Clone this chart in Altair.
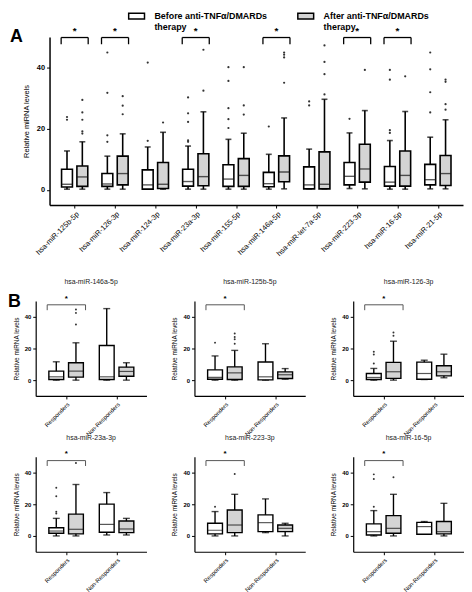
import json
import altair as alt
import pandas as pd

FONT = "Liberation Sans"
GREY = "#d4d4d4"

# ---------------- Panel A data ----------------
genes = ["hsa-miR-125b-5p", "hsa-miR-126-3p", "hsa-miR-124-3p", "hsa-miR-23a-3p",
         "hsa-miR-155-5p", "hsa-miR-146a-5p", "hsa-miR-let-7a-5p", "hsa-miR-223-3p",
         "hsa-miR-16-5p", "hsa-miR-21-5p"]
groups = ["Before anti-TNFα/DMARDs therapy", "After anti-TNFα/DMARDs therapy"]

before_low = [0.2, 0.2, 0.2, 0.2, 0.2, 0.2, 0.3, 0.4, 0.2, 0.3]
before_q1 = [0.9, 1.1, 0.2, 1.2, 1.1, 1.0, 0.3, 1.6, 1.2, 1.6]
before_med = [1.8, 1.9, 1.6, 2.7, 3.5, 2.0, 1.6, 4.4, 2.5, 3.3]
before_q3 = [6.7, 5.3, 6.5, 6.7, 8.2, 5.7, 7.5, 8.9, 7.6, 8.3]
before_high = [12.7, 11.0, 14.0, 14.3, 16.5, 11.6, 13.3, 18.6, 16.1, 17.2]

after_low = [0.2, 0.2, 0.2, 0.2, 0.2, 0.3, 0.3, 0.3, 0.2, 0.3]
after_q1 = [1.1, 1.6, 0.4, 1.3, 1.1, 2.6, 0.3, 2.5, 1.2, 1.4]
after_med = [4.2, 5.3, 1.8, 4.3, 4.7, 5.8, 1.8, 6.8, 4.7, 5.3]
after_q3 = [7.8, 11.0, 8.9, 11.8, 10.2, 11.1, 12.4, 14.9, 12.7, 11.2]
after_high = [15.7, 18.3, 18.8, 25.5, 18.5, 23.5, 29.6, 25.9, 25.6, 22.9]

before_outliers = [[22.9, 23.8], [15.7, 17.8, 31.7, 44.9], [16.0, 41.6],
                   [15.7, 16.2, 22.2, 25.0, 30.2], [20.2, 23.1, 26.7, 35.6, 40.1],
                   [20.7], [27.6, 28.9], [23.2], [18.6, 19.5, 36.0, 39.2],
                   [25.3, 31.9, 39.4, 44.9]]
after_outliers = [[18.4, 19.1, 22.9, 25.3, 29.4], [24.7, 27.5, 30.6], [22.0],
                  [32.4, 45.8], [24.6, 27.6, 40.1], [35.0, 43.3, 44.2, 44.9],
                  [31.2, 37.8, 41.8, 47.2], [39.2], [37.1], [26.2, 28.0, 35.3, 36.0]]
sig_genes = ["hsa-miR-125b-5p", "hsa-miR-126-3p", "hsa-miR-23a-3p",
             "hsa-miR-146a-5p", "hsa-miR-223-3p", "hsa-miR-16-5p"]

# ---------------- Panel B data ----------------
b_titles = ["hsa-miR-146a-5p", "hsa-miR-125b-5p", "hsa-miR-126-3p",
            "hsa-miR-23a-3p", "hsa-miR-223-3p", "hsa-miR-16-5p"]
b_groups = ["Responders", "Non-Responders"]
# [low whisker, q1, median, q3, high whisker]
b_before_resp = [[0, 0.4, 2.1, 5.7, 11.6], [0, 0.6, 1.7, 6.5, 15.3], [0, 0.4, 1.7, 4.2, 7.4],
                 [0, 1.7, 3.1, 5.2, 11.1], [0, 1.3, 3.6, 8.0, 15.4], [0, 0.6, 2.7, 7.6, 16.0]]
b_after_resp = [[0, 1.9, 5.7, 11.0, 23.6], [0, 0.4, 4.6, 8.4, 18.8], [0, 1.1, 5.3, 11.2, 24.6],
                [0, 1.3, 4.2, 13.8, 32.5], [0, 2.1, 6.9, 16.4, 26.3], [0, 1.7, 4.8, 12.8, 26.3]]
b_before_nonresp = [[0, 0.4, 2.1, 21.9, 45.2], [0, 0.2, 2.1, 11.5, 23.0], [0.4, 0.6, 4.2, 11.4, 12.6],
                    [0.6, 2.3, 7.3, 20.1, 27.4], [2.1, 2.7, 8.4, 13.3, 23.4], [1.1, 1.1, 5.9, 8.6, 9.1]]
b_after_nonresp = [[0, 2.5, 5.5, 8.2, 11.0], [0.6, 1.0, 3.4, 5.2, 7.3], [1.5, 2.7, 5.3, 9.1, 16.4],
                   [0.6, 2.1, 4.4, 9.4, 11.1], [0, 2.7, 4.8, 6.9, 8.0], [0, 1.3, 2.7, 9.1, 20.6]]
b_out_before_resp = [[], [23.7], [10.5, 16.2, 17.9], [14.2, 15.3, 25.1, 30.4], [18.5], [18.5, 36.0, 38.9]]
b_out_after_resp = [[35.1, 42.5, 44.6], [23.0, 25.8, 27.2, 29.5], [28.0, 30.1], [46.1], [39.2], [37.1]]

# ---------------- layout constants ----------------
AX0 = 14          # px from A's plot origin to its visible axis
AW = 418
AH = 170
BW = 112
BH = 96

axis_common = dict(grid=False, domainColor="black", tickColor="black", labelColor="black",
                   titleColor="black", labelFont=FONT, titleFont=FONT, labelOverlap=False)

# ---------------- Panel A ----------------
offA = {groups[0]: -0.19, groups[1]: 0.19}
rows = []
outs = []
for i, g in enumerate(genes):
    stats = {groups[0]: (before_low[i], before_q1[i], before_med[i], before_q3[i], before_high[i]),
             groups[1]: (after_low[i], after_q1[i], after_med[i], after_q3[i], after_high[i])}
    for grp in groups:
        lo, q1, md, q3, hi = stats[grp]
        rows.append(dict(pos=i + offA[grp], group=grp, lo=lo, q1=q1, med=md, q3=q3, hi=hi))
    for v in before_outliers[i]:
        outs.append(dict(pos=i + offA[groups[0]], value=v))
    for v in after_outliers[i]:
        outs.append(dict(pos=i + offA[groups[1]], value=v))
boxA = pd.DataFrame(rows)
outA = pd.DataFrame(outs)
brA = pd.DataFrame([dict(left=genes.index(g) - 0.335, right=genes.index(g) + 0.335,
                         mid=genes.index(g), top=49.8, bot=47.6, star=52.0) for g in sig_genes])

xsA = alt.Scale(domain=[-0.5, 9.5], range=[AX0, AX0 + AW], nice=False, zero=False)
ysA = alt.Scale(domain=[-5, 50], nice=False, zero=False)
axAx = alt.Axis(values=list(range(10)), labelExpr=json.dumps(genes) + "[datum.value]",
                labelAngle=-45, labelFontSize=7.5, title=None, domainWidth=1.5,
                tickSize=3, labelPadding=2, **axis_common)
axAy = alt.Axis(values=[0, 20, 40], title="Relative miRNA levels", titleFontSize=7.5,
                titleFontWeight="normal", labelFontSize=7.5, labelFontWeight="bold",
                offset=-AX0, domainWidth=1.5, tickSize=3, titlePadding=6, **axis_common)


def XA(f):
    return alt.X(f"{f}:Q", scale=xsA, axis=axAx)


def YA(f):
    return alt.Y(f"{f}:Q", scale=ysA, axis=axAy)


legendA = alt.Legend(title=None, orient="none", legendX=AX0 + 79, legendY=-30,
                     direction="horizontal", symbolType="M-1,-0.375H1V0.375H-1Z",
                     symbolSize=256, symbolStrokeColor="black", symbolStrokeWidth=1.5,
                     labelFont=FONT, labelFontSize=9, labelFontWeight="bold",
                     labelExpr="[replace(datum.label, ' therapy', ''), 'therapy']",
                     labelOffset=9, columnPadding=27, labelLimit=300, padding=0)

baseA = alt.Chart(boxA)
A = alt.layer(
    baseA.mark_rule(color="black", strokeWidth=1.6).encode(x=XA("pos"), y=YA("lo"), y2="hi"),
    baseA.mark_tick(orient="horizontal", color="black", size=6, thickness=1.6).encode(x=XA("pos"), y=YA("lo")),
    baseA.mark_tick(orient="horizontal", color="black", size=6, thickness=1.6).encode(x=XA("pos"), y=YA("hi")),
    baseA.mark_bar(size=11, stroke="black", strokeWidth=1.6).encode(
        x=XA("pos"), y=YA("q1"), y2="q3",
        color=alt.Color("group:N", scale=alt.Scale(domain=groups, range=["white", GREY]), legend=legendA)),
    baseA.mark_tick(orient="horizontal", color="#111", size=11, thickness=1.4).encode(x=XA("pos"), y=YA("med")),
    alt.Chart(outA).mark_circle(size=5, color="#333", opacity=1).encode(x=XA("pos"), y=YA("value")),
    alt.Chart(brA).mark_rule(color="black", strokeWidth=1.3).encode(x=XA("left"), x2="right", y=YA("top")),
    alt.Chart(brA).mark_rule(color="black", strokeWidth=1.3).encode(x=XA("left"), y=YA("bot"), y2="top"),
    alt.Chart(brA).mark_rule(color="black", strokeWidth=1.3).encode(x=XA("right"), y=YA("bot"), y2="top"),
    alt.Chart(brA).mark_text(text="*", font=FONT, fontSize=10, fontWeight="bold").encode(x=XA("mid"), y=YA("star")),
).properties(width=AX0 + AW, height=AH,
             title=alt.Title("A", anchor="start", frame="group", font=FONT, fontSize=18,
                             fontWeight="bold", dx=AX0 - 40, dy=39, offset=0))

# ---------------- Panel B ----------------
offB = {"before": -0.19, "after": 0.2}
xsB = alt.Scale(domain=[-0.5, 1.5], nice=False, zero=False)
ysB = alt.Scale(domain=[-10, 50], nice=False, zero=False)
axBx = alt.Axis(values=[0, 1], labelExpr=json.dumps(b_groups) + "[datum.value]",
                labelAngle=-45, labelFontSize=6, title=None, domainWidth=1.2,
                tickSize=3, labelPadding=2, **axis_common)
axBy = alt.Axis(values=[0, 20, 40], title="Relative miRNA levels", titleFontSize=6.5,
                titleFontWeight="normal", labelFontSize=6, labelFontWeight="bold",
                domainWidth=1.2, tickSize=3, titlePadding=5, **axis_common)


def XB(f):
    return alt.X(f"{f}:Q", scale=xsB, axis=axBx)


def YB(f):
    return alt.Y(f"{f}:Q", scale=ysB, axis=axBy)


def panel(k):
    rws = []
    stats = [(0, "before", b_before_resp[k]), (0, "after", b_after_resp[k]),
             (1, "before", b_before_nonresp[k]), (1, "after", b_after_nonresp[k])]
    for gi, phase, s in stats:
        rws.append(dict(pos=gi + offB[phase], phase=phase, lo=s[0], q1=s[1], med=s[2], q3=s[3], hi=s[4]))
    bx = pd.DataFrame(rws)
    od = pd.DataFrame([dict(pos=offB["before"], value=v) for v in b_out_before_resp[k]] +
                      [dict(pos=offB["after"], value=v) for v in b_out_after_resp[k]])
    br = pd.DataFrame([dict(left=-0.37, right=0.39, mid=0.01, top=47.6, bot=44.2, star=51.5)])
    base = alt.Chart(bx)
    return alt.layer(
        base.mark_rule(color="black", strokeWidth=1.4).encode(x=XB("pos"), y=YB("lo"), y2="hi"),
        base.mark_tick(orient="horizontal", color="black", size=7, thickness=1.4).encode(x=XB("pos"), y=YB("lo")),
        base.mark_tick(orient="horizontal", color="black", size=7, thickness=1.4).encode(x=XB("pos"), y=YB("hi")),
        alt.Chart(bx[bx.phase == "before"]).mark_bar(size=15, stroke="black", strokeWidth=1.4, fill="white").encode(
            x=XB("pos"), y=YB("q1"), y2="q3"),
        alt.Chart(bx[bx.phase == "after"]).mark_bar(size=15, stroke="black", strokeWidth=1.4, fill=GREY).encode(
            x=XB("pos"), y=YB("q1"), y2="q3"),
        base.mark_tick(orient="horizontal", color="#111", size=15, thickness=1.2).encode(x=XB("pos"), y=YB("med")),
        alt.Chart(od).mark_circle(size=4, color="#333", opacity=1).encode(x=XB("pos"), y=YB("value")),
        alt.Chart(br).mark_rule(color="#555", strokeWidth=1).encode(x=XB("left"), x2="right", y=YB("top")),
        alt.Chart(br).mark_rule(color="#555", strokeWidth=1).encode(x=XB("left"), y=YB("bot"), y2="top"),
        alt.Chart(br).mark_rule(color="#555", strokeWidth=1).encode(x=XB("right"), y=YB("bot"), y2="top"),
        alt.Chart(br).mark_text(text="*", font=FONT, fontSize=8, fontWeight="bold").encode(x=XB("mid"), y=YB("star")),
    ).properties(width=BW, height=BH,
                 title=alt.Title(b_titles[k], font=FONT, fontSize=7, fontWeight="normal",
                                 color="#222", offset=10))


row1 = alt.hconcat(panel(0), panel(1), panel(2), spacing=25.5).properties(
    title=alt.Title("B", anchor="start", frame="group", font=FONT, fontSize=18,
                    fontWeight="bold", dx=-28, dy=33, offset=0))
row2 = alt.hconcat(panel(3), panel(4), panel(5), spacing=25.5)

chart = alt.vconcat(A, alt.vconcat(row1, row2, spacing=-4.5), spacing=20).properties(
    padding={"left": 0, "top": -4, "right": 0, "bottom": 0}
).resolve_scale(color="independent").configure_view(stroke=None).configure_title(font=FONT)

chart.save("out.html", embed_options={"renderer": "svg", "actions": False})
